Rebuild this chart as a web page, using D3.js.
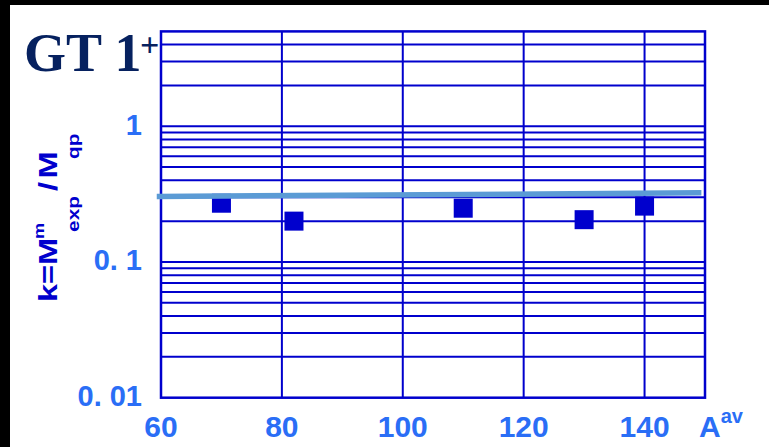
<!DOCTYPE html>
<html>
<head>
<meta charset="utf-8">
<script src="https://cdn.jsdelivr.net/npm/d3@7"></script>
<style>
  html, body { margin: 0; padding: 0; background: #000; }
  svg { display: block; }
</style>
</head>
<body>
<script>
// Data
var massNumbers = [70, 82, 110, 130, 140];
var kValues = [0.271, 0.2, 0.249, 0.205, 0.258];
var fitA = [59.3, 149.4];
var fitK = [0.304, 0.323];
var xTicks = [60, 80, 100, 120, 140];
var yTicks = [0.01, 0.1, 1];
var yTickLabels = ['0. 01', '0. 1', '1'];

// Width and Height of the whole picture
var width = 769,
  height = 447;

var gridColor = '#0000cd';
var labelColor = '#2a6ef6';

var svg = d3.select('body')
  .append('svg')
  .attr('width', width)
  .attr('height', height);

// white slide with a black edge on top and left
svg.append('rect')
  .attr('x', 10)
  .attr('y', 5)
  .attr('width', width - 10)
  .attr('height', height - 5)
  .attr('fill', '#fff');

var x = d3.scaleLinear()
  .domain([60, 150])
  .range([161, 705]);

var y = d3.scaleLog()
  .domain([0.01, 5])
  .range([397.7, 31.4]);

// log grid lines (every 1..9 in each decade)
var gridValues = [];
[0.01, 0.1, 1].forEach(function(d) {
  for (var i = 1; i < 10; i++) {
    var v = +(d * i).toPrecision(3);
    if (v > 0.01 && v < 5) gridValues.push(v);
  }
});

var grid = svg.append('g')
  .attr('stroke', gridColor)
  .attr('stroke-width', 2);

grid.selectAll('line.h')
  .data(gridValues)
  .enter()
  .append('line')
  .attr('class', 'h')
  .attr('x1', x(60))
  .attr('x2', x(150))
  .attr('y1', function(d) { return y(d); })
  .attr('y2', function(d) { return y(d); });

grid.selectAll('line.v')
  .data(xTicks.slice(1))
  .enter()
  .append('line')
  .attr('class', 'v')
  .attr('x1', function(d) { return x(d); })
  .attr('x2', function(d) { return x(d); })
  .attr('y1', y(5))
  .attr('y2', y(0.01));

// plot frame
svg.append('rect')
  .attr('x', x(60))
  .attr('y', y(5))
  .attr('width', x(150) - x(60))
  .attr('height', y(0.01) - y(5))
  .attr('fill', 'none')
  .attr('stroke', gridColor)
  .attr('stroke-width', 2.5);

// data squares
var size = 19;
svg.append('g')
  .selectAll('rect')
  .data(massNumbers)
  .enter()
  .append('rect')
  .attr('x', function(d) { return x(d) - size / 2; })
  .attr('y', function(d, i) { return y(kValues[i]) - size / 2; })
  .attr('width', size)
  .attr('height', size)
  .attr('fill', gridColor);

// fitted line on top
var line = d3.line()
  .x(function(d) { return x(d); })
  .y(function(d, i) { return y(fitK[i]); });

svg.append('path')
  .datum(fitA)
  .attr('d', line)
  .attr('fill', 'none')
  .attr('stroke', '#5b9bd5')
  .attr('stroke-width', 5.5);

// tick labels
var sans = 'Liberation Sans, Arial, sans-serif';

svg.append('g')
  .selectAll('text')
  .data(xTicks)
  .enter()
  .append('text')
  .attr('x', function(d) { return x(d); })
  .attr('y', 436.5)
  .attr('text-anchor', 'middle')
  .attr('font-family', sans)
  .attr('font-weight', 'bold')
  .attr('font-size', 30)
  .attr('fill', labelColor)
  .text(function(d) { return d; });

svg.append('g')
  .selectAll('text')
  .data(yTicks)
  .enter()
  .append('text')
  .attr('x', 142)
  .attr('y', function(d) { return y(d) - 2; })
  .attr('dy', '0.36em')
  .attr('text-anchor', 'end')
  .attr('font-family', sans)
  .attr('font-weight', 'bold')
  .attr('font-size', 29)
  .attr('fill', labelColor)
  .text(function(d, i) { return yTickLabels[i]; });

// x axis name A^av
var xName = svg.append('text')
  .attr('x', 699)
  .attr('y', 436.5)
  .attr('font-family', sans)
  .attr('font-weight', 'bold')
  .attr('fill', labelColor);
xName.append('tspan').attr('font-size', 30).text('A');
xName.append('tspan').attr('font-size', 20).attr('dy', -14).text('av');

// y axis name k=M^m_exp/M_qp, rotated and a bit stretched
var yParts = [
  { t: 'k=M', cy: 270, bx: 56.7, fs: 25 },
  { t: 'm', cy: 231, bx: 43.5, fs: 14 },
  { t: 'exp', cy: 214, bx: 78.5, fs: 16 },
  { t: '/', cy: 186.5, bx: 56.7, fs: 25 },
  { t: 'M', cy: 165, bx: 56.7, fs: 25 },
  { t: 'qp', cy: 146.3, bx: 78.5, fs: 16 }
];

svg.append('g')
  .selectAll('text')
  .data(yParts)
  .enter()
  .append('text')
  .attr('transform', function(d) {
    return 'translate(' + d.bx + ',' + d.cy + ') rotate(-90) scale(1.3,1)';
  })
  .attr('text-anchor', 'middle')
  .attr('font-family', sans)
  .attr('font-weight', 'bold')
  .attr('font-size', function(d) { return d.fs; })
  .attr('fill', gridColor)
  .text(function(d) { return d.t; });

// title
var serif = 'Liberation Serif, Times New Roman, serif';
svg.append('text')
  .attr('x', 24)
  .attr('y', 70.5)
  .attr('font-family', serif)
  .attr('font-weight', 'bold')
  .attr('font-size', 54)
  .attr('fill', '#06215f')
  .text('GT 1');

svg.append('text')
  .attr('x', 140)
  .attr('y', 56)
  .attr('font-family', serif)
  .attr('font-weight', 'bold')
  .attr('font-size', 34)
  .attr('fill', '#06215f')
  .text('+');
</script>
</body>
</html>
